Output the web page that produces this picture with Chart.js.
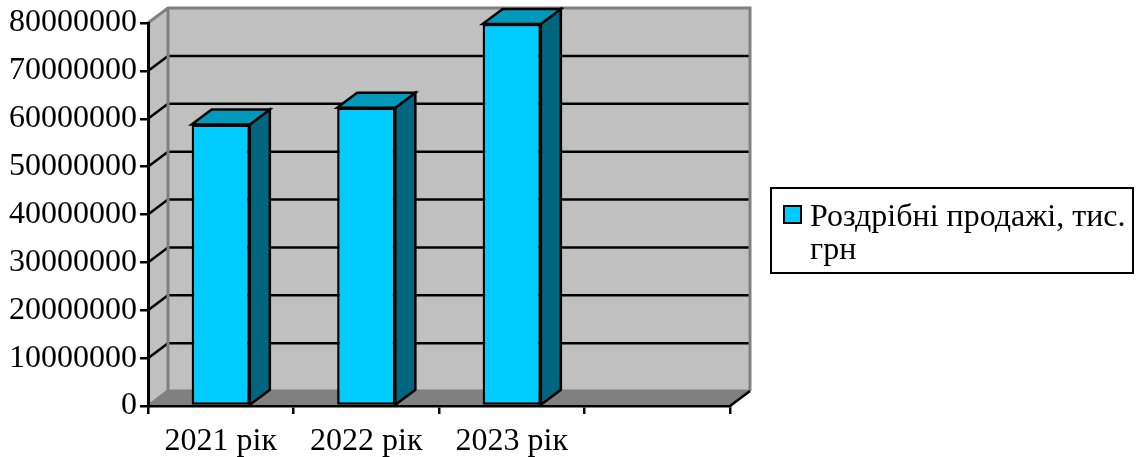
<!DOCTYPE html>
<html>
<head>
<meta charset="utf-8">
<script src="https://cdn.jsdelivr.net/npm/chart.js@4"></script>
<style>
  body { margin: 0; background: #fff; }
  #wrap { width: 1137px; height: 457px; }
</style>
</head>
<body>
<div id="wrap"><canvas id="myChart" width="1137" height="457"></canvas></div>
<script>
// chart data
var categories = ['2021 рік', '2022 рік', '2023 рік', ''];
var sales = [58800000, 62300000, 79800000, null];
var seriesName = 'Роздрібні продажі, тис. грн';
var yTicks = [0, 10000000, 20000000, 30000000, 40000000, 50000000, 60000000, 70000000, 80000000];

// 3d depth offset
var DX = 20, DY = -15;
var FONT = '32px "Liberation Serif", "Times New Roman", serif';

var wallPlugin = {
  id: 'walls',
  beforeDraw: function(chart) {
    var ctx = chart.ctx;
    var a = chart.chartArea;
    var y = chart.scales.y;
    ctx.save();
    // back wall
    ctx.fillStyle = '#c0c0c0';
    ctx.fillRect(a.left + DX, a.top + DY, a.right - a.left, a.bottom - a.top);
    // left side wall
    ctx.beginPath();
    ctx.moveTo(a.left, a.top);
    ctx.lineTo(a.left + DX, a.top + DY);
    ctx.lineTo(a.left + DX, a.bottom + DY);
    ctx.lineTo(a.left, a.bottom);
    ctx.closePath();
    ctx.fill();
    // floor
    ctx.fillStyle = '#808080';
    ctx.beginPath();
    ctx.moveTo(a.left, a.bottom);
    ctx.lineTo(a.right, a.bottom);
    ctx.lineTo(a.right + DX, a.bottom + DY);
    ctx.lineTo(a.left + DX, a.bottom + DY);
    ctx.closePath();
    ctx.fill();

    // gridlines on back and side wall
    ctx.strokeStyle = '#000';
    ctx.lineWidth = 2.5;
    yTicks.forEach(function(v) {
      if (v === yTicks[0] || v === yTicks[yTicks.length - 1]) return;
      var py = y.getPixelForValue(v);
      ctx.beginPath();
      ctx.moveTo(a.left, py);
      ctx.lineTo(a.left + DX, py + DY);
      ctx.lineTo(a.right + DX, py + DY);
      ctx.stroke();
    });

    // wall edges
    ctx.strokeStyle = '#808080';
    ctx.lineWidth = 3;
    ctx.beginPath();
    ctx.moveTo(a.left, a.top);
    ctx.lineTo(a.left + DX, a.top + DY);
    ctx.lineTo(a.right + DX, a.top + DY);
    ctx.lineTo(a.right + DX, a.bottom + DY);
    ctx.moveTo(a.left + DX, a.top + DY);
    ctx.lineTo(a.left + DX, a.bottom + DY);
    ctx.lineTo(a.right + DX, a.bottom + DY);
    ctx.moveTo(a.left, a.bottom);
    ctx.lineTo(a.left + DX, a.bottom + DY);
    ctx.stroke();

    // right floor edge
    ctx.strokeStyle = '#000';
    ctx.lineWidth = 2.5;
    ctx.beginPath();
    ctx.moveTo(a.right, a.bottom);
    ctx.lineTo(a.right + DX, a.bottom + DY);
    ctx.stroke();
    ctx.restore();
  },
  afterDatasetsDraw: function(chart) {
    var ctx = chart.ctx;
    var meta = chart.getDatasetMeta(0);
    ctx.save();
    ctx.strokeStyle = '#000';
    ctx.lineWidth = 2.5;
    ctx.lineJoin = 'miter';
    meta.data.forEach(function(bar, i) {
      if (sales[i] == null) return;
      var p = bar.getProps(['x', 'y', 'base', 'width'], true);
      var l = p.x - p.width / 2, r = p.x + p.width / 2;
      // side face
      ctx.fillStyle = '#006680';
      ctx.beginPath();
      ctx.moveTo(r, p.y);
      ctx.lineTo(r + DX, p.y + DY);
      ctx.lineTo(r + DX, p.base + DY);
      ctx.lineTo(r, p.base);
      ctx.closePath();
      ctx.fill();
      ctx.stroke();
      // top face
      ctx.fillStyle = '#0099bb';
      ctx.beginPath();
      ctx.moveTo(l, p.y);
      ctx.lineTo(l + DX, p.y + DY);
      ctx.lineTo(r + DX, p.y + DY);
      ctx.lineTo(r, p.y);
      ctx.closePath();
      ctx.fill();
      ctx.stroke();
    });
    ctx.restore();
  },
  afterDraw: function(chart) {
    // legend box
    var ctx = chart.ctx;
    ctx.save();
    ctx.fillStyle = '#fff';
    ctx.fillRect(771, 188, 362, 85);
    ctx.strokeStyle = '#000';
    ctx.lineWidth = 2;
    ctx.strokeRect(771, 188, 362, 85);
    ctx.fillStyle = '#00ccff';
    ctx.fillRect(784, 206, 17, 17);
    ctx.strokeRect(784, 206, 17, 17);
    ctx.font = FONT;
    ctx.fillStyle = '#000';
    ctx.textBaseline = 'alphabetic';
    // wrap label
    var words = seriesName.split(' ');
    var lines = [], cur = '';
    words.forEach(function(w) {
      var t = cur ? cur + ' ' + w : w;
      if (ctx.measureText(t).width > 320 && cur) { lines.push(cur); cur = w; }
      else cur = t;
    });
    lines.push(cur);
    lines.forEach(function(s, i) {
      ctx.fillText(s, 810, 226 + i * 33);
    });
    ctx.restore();
  }
};

var ctx = document.getElementById('myChart').getContext('2d');
var myChart = new Chart(ctx, {
  type: 'bar',
  data: {
    labels: categories,
    datasets: [{
      label: seriesName,
      data: sales,
      backgroundColor: '#00ccff',
      borderColor: '#000',
      borderWidth: 2.5,
      borderSkipped: false,
      barPercentage: 0.4,
      categoryPercentage: 1.0
    }]
  },
  options: {
    responsive: false,
    animation: false,
    layout: { padding: { top: 23, right: 407, left: 0, bottom: 0 } },
    plugins: {
      legend: { display: false },
      tooltip: { enabled: false }
    },
    scales: {
      x: {
        afterFit: function(s) { s.height = 51; },
        grid: { drawOnChartArea: false, drawTicks: true, tickLength: 8, color: '#000', lineWidth: 2.5, offset: true },
        border: { color: '#000', width: 2.5 },
        ticks: { color: '#000', font: { family: '"Liberation Serif", serif', size: 32 }, padding: 8, maxRotation: 0, autoSkip: false }
      },
      y: {
        min: 0,
        max: 80000000,
        afterFit: function(s) { s.width = 148; },
        afterBuildTicks: function(s) { s.ticks = yTicks.map(function(v) { return { value: v }; }); },
        grid: { drawOnChartArea: false, drawTicks: true, tickLength: 8, color: '#000', lineWidth: 2.5 },
        border: { color: '#000', width: 3 },
        ticks: {
          color: '#000',
          font: { family: '"Liberation Serif", serif', size: 32 },
          padding: 3,
          callback: function(v) { return String(v); }
        }
      }
    }
  },
  plugins: [wallPlugin]
});
</script>
</body>
</html>
